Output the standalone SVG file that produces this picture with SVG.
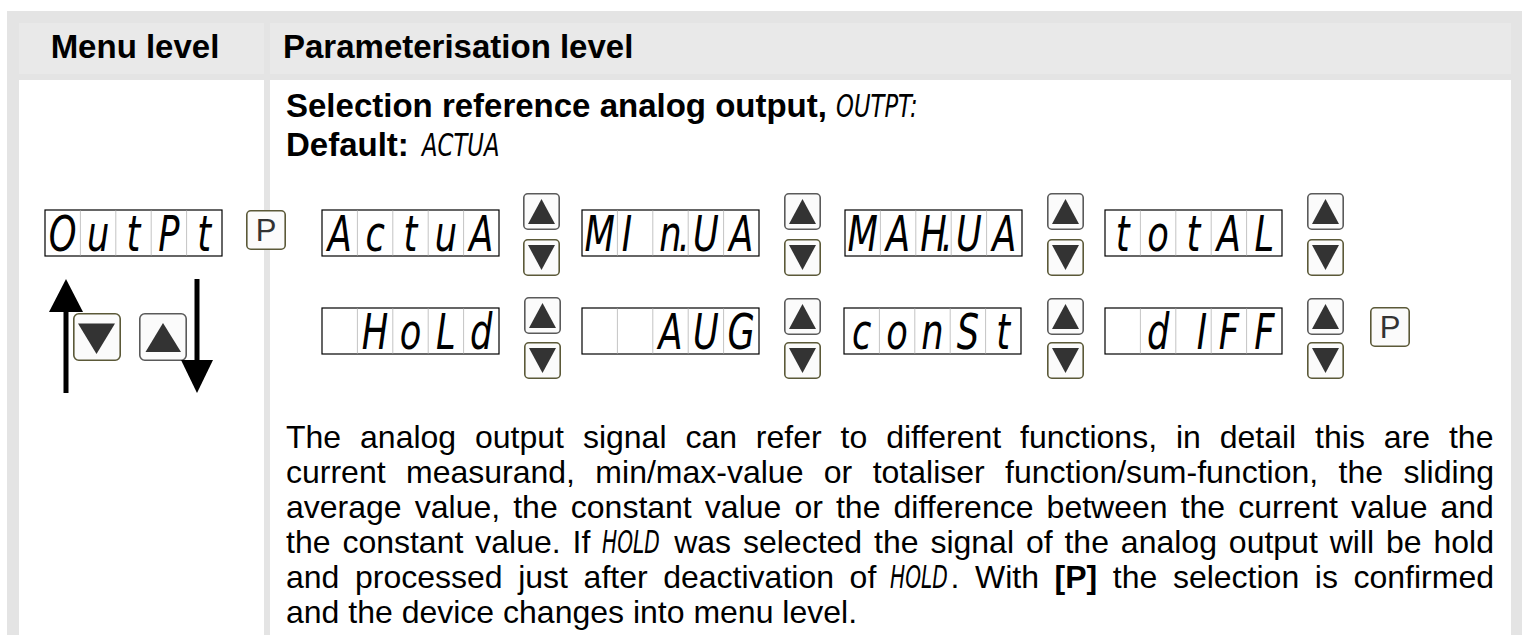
<svg xmlns="http://www.w3.org/2000/svg" xmlns:xlink="http://www.w3.org/1999/xlink" width="1522" height="635" viewBox="0 0 1522 635">
<style>
.hdr{font-family:"Liberation Sans",Arial,sans-serif;font-weight:bold;font-size:33px;fill:#000}
.body{font-family:"Liberation Sans",Arial,sans-serif;font-size:32px;fill:#000}
.lcd{font-family:"DejaVu Sans",sans-serif;font-style:oblique;font-size:32px;fill:#000}
.seg{font-family:"DejaVu Sans",sans-serif;font-style:oblique;font-size:49px;fill:#000;text-anchor:middle}
.box{fill:#fff;stroke:#000;stroke-width:1.2}
.cell{stroke:#c4c4c4;stroke-width:1}
.bup{fill:#fbfbfb;stroke:#5a5a5a;stroke-width:1.6}
.bdn{fill:#fbfbfb;stroke:#5b5938;stroke-width:1.6}
.tri{fill:#333}
.ptxt{font-family:"Liberation Sans",Arial,sans-serif;font-size:31px;fill:#333;text-anchor:middle}
.arrow{fill:#000}
</style>
<defs>
<g id="frame">
<rect class="box" x="0" y="0" width="177" height="46"/>
<path class="cell" d="M35.4 0.6V45.4M70.8 0.6V45.4M106.2 0.6V45.4M141.6 0.6V45.4"/>
</g>
<g id="up">
<rect class="bup" x="0.8" y="0.8" width="35.4" height="35.4" rx="4"/>
<polygon class="tri" points="18.5,6 32,31 5,31"/>
</g>
<g id="dn">
<rect class="bdn" x="0.8" y="0.8" width="35.4" height="35.4" rx="4"/>
<polygon class="tri" points="5,6 32,6 18.5,31"/>
</g>
<g id="pbtn">
<rect class="bdn" x="0.8" y="0.8" width="38.4" height="38.4" rx="4"/>
<text class="ptxt" x="20" y="31">P</text>
</g>
</defs>

<!-- table background -->
<rect x="7" y="11" width="1515" height="624" fill="#e4e4e4"/>
<rect x="19" y="23" width="245" height="51" fill="#e9e9e9"/>
<rect x="270" y="23" width="1241" height="51" fill="#e9e9e9"/>
<rect x="19" y="80" width="245" height="555" fill="#fff"/>
<rect x="270" y="80" width="1241" height="555" fill="#fff"/>

<text class="hdr" x="135" y="58" text-anchor="middle">Menu level</text>
<text class="hdr" x="283" y="58">Parameterisation level</text>

<text class="hdr" x="286" y="117">Selection reference analog output,</text>
<text class="lcd" transform="translate(836,117) scale(0.71,1)" x="0" y="0">OUTPT:</text>
<text class="hdr" x="286" y="156">Default:</text>
<text class="lcd" transform="translate(422,156) scale(0.71,1)" x="0" y="0">ACTUA</text>

<!-- menu level -->
<g id="disp-outpt">
<use xlink:href="#frame" x="45" y="210"/>
<text class="seg" transform="translate(45,251) scale(0.72,1)" x="24.6 73.75 122.9 172.1 221.25" y="0">OutPt</text>
</g>
<g id="btn-p-menu"><use xlink:href="#pbtn" x="246" y="210"/></g>
<g id="btn-down-menu">
<rect class="bdn" x="73.8" y="313.8" width="46.4" height="46.4" rx="5"/>
<polygon class="tri" points="78,323.5 115,323.5 96.5,354"/>
</g>
<g id="btn-up-menu">
<rect class="bup" x="139.8" y="313.8" width="46.4" height="46.4" rx="5"/>
<polygon class="tri" points="163,323 181,352 145.5,352"/>
</g>
<g id="connectors">
<rect class="arrow" x="63.5" y="310" width="5" height="83"/>
<polygon class="arrow" points="66,279 83,312 49,312"/>
<rect class="arrow" x="194.5" y="279" width="5" height="83"/>
<polygon class="arrow" points="181,360 213,360 197,393"/>
</g>

<!-- row 1 -->
<g id="disp-actua">
<use xlink:href="#frame" x="322" y="210"/>
<text class="seg" transform="translate(322,251) scale(0.72,1)" x="24.6 73.75 122.9 172.1 221.25" y="0">ActuA</text>
</g>
<g id="btns-1"><use xlink:href="#up" x="523" y="193"/><use xlink:href="#dn" x="523" y="239"/></g>
<g id="disp-minua">
<use xlink:href="#frame" x="582" y="210"/>
<text class="seg" transform="translate(582,251) scale(0.72,1)" x="24.6 62.5 122.9 141.7 172.1 221.25" y="0">MIn.UA</text>
</g>
<g id="btns-2"><use xlink:href="#up" x="784" y="193"/><use xlink:href="#dn" x="784" y="239"/></g>
<g id="disp-maxua">
<use xlink:href="#frame" x="845" y="210"/>
<text class="seg" transform="translate(845,251) scale(0.72,1)" x="24.6 73.75 122.9 141.7 172.1 221.25" y="0">MAH.UA</text>
</g>
<g id="btns-3"><use xlink:href="#up" x="1047" y="193"/><use xlink:href="#dn" x="1047" y="239"/></g>
<g id="disp-total">
<use xlink:href="#frame" x="1105" y="210"/>
<text class="seg" transform="translate(1105,251) scale(0.72,1)" x="24.6 73.75 122.9 172.1 221.25" y="0">totAL</text>
</g>
<g id="btns-4"><use xlink:href="#up" x="1307" y="193"/><use xlink:href="#dn" x="1307" y="239"/></g>

<!-- row 2 -->
<g id="disp-hold">
<use xlink:href="#frame" x="322" y="308"/>
<text class="seg" transform="translate(322,349) scale(0.72,1)" x="73.75 122.9 172.1 221.25" y="0">HoLd</text>
</g>
<g id="btns-5"><use xlink:href="#up" x="524" y="297"/><use xlink:href="#dn" x="524" y="342"/></g>
<g id="disp-aug">
<use xlink:href="#frame" x="582" y="308"/>
<text class="seg" transform="translate(582,349) scale(0.72,1)" x="122.9 172.1 221.25" y="0">AUG</text>
</g>
<g id="btns-6"><use xlink:href="#up" x="784" y="298"/><use xlink:href="#dn" x="784" y="342"/></g>
<g id="disp-const">
<use xlink:href="#frame" x="844" y="308"/>
<text class="seg" transform="translate(844,349) scale(0.72,1)" x="24.6 73.75 122.9 172.1 221.25" y="0">conSt</text>
</g>
<g id="btns-7"><use xlink:href="#up" x="1047" y="298"/><use xlink:href="#dn" x="1047" y="342"/></g>
<g id="disp-diff">
<use xlink:href="#frame" x="1105" y="308"/>
<text class="seg" transform="translate(1105,349) scale(0.72,1)" x="73.75 134.7 172.1 221.25" y="0">dIFF</text>
</g>
<g id="btns-8"><use xlink:href="#up" x="1307" y="298"/><use xlink:href="#dn" x="1307" y="342"/></g>
<g id="btn-p-end"><use xlink:href="#pbtn" x="1370" y="307"/></g>

<!-- description -->
<text class="body" x="286" y="448" word-spacing="10">The analog output signal can refer to different functions, in detail this are the</text>
<text class="body" x="286" y="483" word-spacing="11.5">current measurand, min/max-value or totaliser function/sum-function, the sliding</text>
<text class="body" x="286" y="518" word-spacing="4.2">average value, the constant value or the difference between the current value and</text>
<text class="body" x="286" y="553" word-spacing="3">the constant value. If</text>
<text class="lcd" transform="translate(602,553) scale(0.63,1)" x="0" y="0">HOLD</text>
<text class="body" x="1494" y="553" word-spacing="3" text-anchor="end">was selected the signal of the analog output will be hold</text>
<text class="body" x="286" y="588" word-spacing="6.7">and processed just after deactivation of</text>
<text class="lcd" transform="translate(890,588) scale(0.63,1)" x="0" y="0">HOLD</text>
<text class="body" x="1494" y="588" word-spacing="6.7" text-anchor="end">. With <tspan font-weight="bold">[P]</tspan> the selection is confirmed</text>
<text class="body" x="286" y="623">and the device changes into menu level.</text>
</svg>
